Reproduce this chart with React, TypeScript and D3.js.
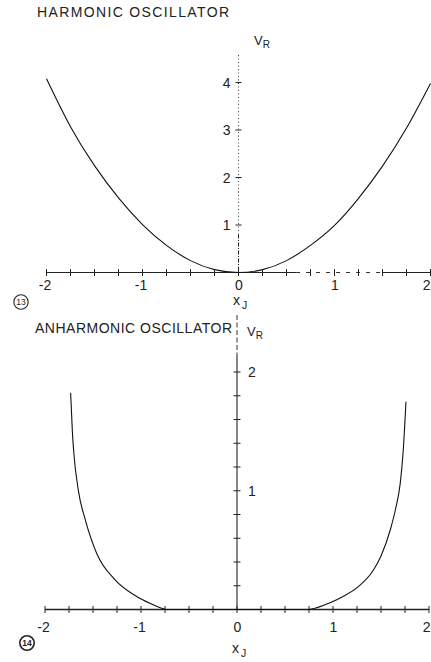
import React from 'react';
import * as d3 from 'd3';

// harmonic oscillator curve
const harmX = [-2, -1.75, -1.5, -1.25, -1, -0.75, -0.5, -0.25, 0, 0.25, 0.5, 0.75, 1, 1.25, 1.5, 1.75, 2];
const harmV = [4.08, 3.07, 2.25, 1.57, 1.01, 0.57, 0.25, 0.06, 0, 0.06, 0.25, 0.57, 0.99, 1.56, 2.24, 3.04, 3.98];

// anharmonic oscillator curve
const anhX = [-1.733, -1.715, -1.7, -1.65, -1.58, -1.46, -1.27, -1.045, -0.9, -0.8, -0.74, -0.4, 0, 0.4, 0.745, 0.85, 0.95, 1.07, 1.26, 1.42, 1.5, 1.6, 1.65, 1.7, 1.73, 1.76];
const anhV = [1.825, 1.5, 1.32, 0.99, 0.755, 0.47, 0.25, 0.11, 0.05, 0.015, 0, 0, 0, 0, 0, 0.02, 0.05, 0.095, 0.19, 0.33, 0.45, 0.68, 0.84, 1.06, 1.32, 1.75];

const xMinorTicks = [-2, -1.75, -1.5, -1.25, -1, -0.75, -0.5, -0.25, 0, 0.25, 0.5, 0.75, 1, 1.25, 1.5, 1.75, 2];
const xLabels = [-2, -1, 0, 1, 2];
const harmYTicks = [1, 2, 3, 4];
const anhYTicks = [0.2, 0.4, 0.6, 0.8, 1, 1.2, 1.4, 1.6, 1.8, 2];
const anhYLabels = [1, 2];

const font = "'Liberation Sans', Arial, sans-serif";

const App = () => {
    const W = 431, H = 662;

    // top panel
    const x1 = d3.scaleLinear().domain([-2, 2]).range([46.5, 430.5]);
    const y1 = d3.scaleLinear().domain([0, 4]).range([272.5, 82.5]);
    // bottom panel
    const x2 = d3.scaleLinear().domain([-2, 2]).range([45, 429]);
    const y2 = d3.scaleLinear().domain([0, 2]).range([609.5, 372]);

    const line1 = d3.line<number>()
        .x((_, i) => x1(harmX[i]))
        .y(d => y1(d))
        .curve(d3.curveNatural);
    const line2 = d3.line<number>()
        .x((_, i) => x2(anhX[i]))
        .y(d => y2(d))
        .curve(d3.curveMonotoneX);

    const fmt = (v: number) => (v < 0 ? '-' + Math.abs(v) : String(v));
    // last label sits on the right edge, keep it inside the page
    const labelX = (sx: d3.ScaleLinear<number, number>, t: number) =>
        t === 2 ? W - 0.5 : sx(t) + (t < 0 ? -1.5 : 0.5);
    const labelAnchor = (t: number) => (t === 2 ? 'end' : 'middle');

    return (
        <div style={{ position: 'absolute', left: 0, top: 0 }}>
            <svg width={W} height={H} style={{ display: 'block', background: '#fff' }} fontFamily={font}>
                {/* ---------- HARMONIC ---------- */}
                <text x={37} y={17} fontSize={14} textLength={192} lengthAdjust="spacing" fill="#222">HARMONIC OSCILLATOR</text>

                {/* y axis, dotted */}
                <line x1={x1(0)} x2={x1(0)} y1={55} y2={y1(0.8)} stroke="#333" strokeWidth={0.9} strokeDasharray="1,2.5" />
                <line x1={x1(0)} x2={x1(0)} y1={y1(0.8)} y2={y1(0)} stroke="#222" strokeWidth={1} strokeDasharray="4,1.5,1,1.5" />
                {harmYTicks.map(t => (
                    <g key={'hy' + t}>
                        <line x1={x1(0) - 3} x2={x1(0) + 3} y1={y1(t)} y2={y1(t)} stroke="#222" strokeWidth={1} />
                        <text x={x1(0) - 8} y={y1(t)} dy="0.36em" fontSize={14} textAnchor="end" fill="#222">{t}</text>
                    </g>
                ))}
                <text x={254} y={45} fontSize={13} fill="#222">V<tspan fontSize={10} dy={3}>R</tspan></text>

                {/* x axis */}
                <line x1={x1(-2)} x2={x1(0.6)} y1={y1(0)} y2={y1(0)} stroke="#222" strokeWidth={1.1} />
                <line x1={x1(0.6)} x2={x1(1.5)} y1={y1(0)} y2={y1(0)} stroke="#333" strokeWidth={1} strokeDasharray="4,6" />
                <line x1={x1(1.5)} x2={x1(2)} y1={y1(0)} y2={y1(0)} stroke="#222" strokeWidth={1.1} />
                {xMinorTicks.map(t => (
                    <line key={'hx' + t} x1={x1(t)} x2={x1(t)} y1={y1(0) - 3.5} y2={y1(0) + 3.5} stroke="#222" strokeWidth={1} />
                ))}
                {xLabels.map(t => (
                    <text key={'hl' + t} x={labelX(x1, t)} y={285} dy="0.36em" fontSize={14} textAnchor={labelAnchor(t)} fill="#222">{fmt(t)}</text>
                ))}
                <text x={233} y={305} fontSize={14} fill="#222">x<tspan fontSize={10.5} dy={4} dx={2}>J</tspan></text>
                <circle cx={21} cy={302} r={7.2} fill="none" stroke="#222" strokeWidth={1.1} />
                <text x={21} y={302} dy="0.36em" fontSize={8.5} textAnchor="middle" fill="#222">13</text>

                <path d={line1(harmV) || ''} fill="none" stroke="#111" strokeWidth={1.1} />

                {/* ---------- ANHARMONIC ---------- */}
                <text x={35} y={333} fontSize={14} textLength={197} lengthAdjust="spacing" fill="#222">ANHARMONIC OSCILLATOR</text>

                <line x1={x2(0)} x2={x2(0)} y1={315} y2={y2(2.15)} stroke="#333" strokeWidth={1} strokeDasharray="5,2.5" />
                <line x1={x2(0)} x2={x2(0)} y1={y2(2.15)} y2={y2(0)} stroke="#222" strokeWidth={1.1} />
                {anhYTicks.map(t => (
                    <line key={'ay' + t} x1={x2(0) - 3.5} x2={x2(0) + 3.5} y1={y2(t)} y2={y2(t)} stroke="#222" strokeWidth={1} />
                ))}
                {anhYLabels.map(t => (
                    <text key={'al' + t} x={x2(0) + 11} y={y2(t)} dy="0.36em" fontSize={14} textAnchor="start" fill="#222">{t}</text>
                ))}
                <text x={247} y={336} fontSize={13} fill="#222">V<tspan fontSize={10} dy={3}>R</tspan></text>

                <line x1={x2(-2)} x2={x2(2)} y1={y2(0)} y2={y2(0)} stroke="#222" strokeWidth={1.3} />
                {xMinorTicks.map(t => (
                    <line key={'ax' + t} x1={x2(t)} x2={x2(t)} y1={y2(0) - 3.5} y2={y2(0) + 3.5} stroke="#222" strokeWidth={1} />
                ))}
                {xLabels.map(t => (
                    <text key={'axl' + t} x={labelX(x2, t)} y={627} dy="0.36em" fontSize={14} textAnchor={labelAnchor(t)} fill="#222">{fmt(t)}</text>
                ))}
                <text x={232} y={653} fontSize={14} fill="#222">x<tspan fontSize={10.5} dy={4} dx={2}>J</tspan></text>
                <circle cx={27} cy={643} r={7.2} fill="none" stroke="#222" strokeWidth={1.6} />
                <text x={27} y={643} dy="0.36em" fontSize={8.5} fontWeight="bold" textAnchor="middle" fill="#222">14</text>

                <path d={line2(anhV) || ''} fill="none" stroke="#111" strokeWidth={1.1} />
            </svg>
        </div>
    );
};

export default App;
